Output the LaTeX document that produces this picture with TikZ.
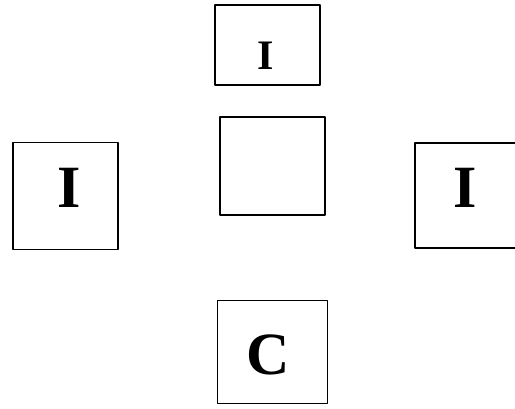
\documentclass[tikz,border=0pt]{standalone}
\usepackage{fontspec}
\setmainfont{Liberation Serif}
\begin{document}
\begin{tikzpicture}[x=1pt,y=-1pt,line cap=round,line join=round]
  \tikzset{
    card/.style={draw,line width=1.5pt,inner sep=0pt},
    letter/.style={font=\bfseries\fontsize{60}{60}\selectfont,inner sep=0pt}
  }
  \useasboundingbox (0,0) rectangle (515,408);
  \node[card,minimum width=105pt,minimum height=80pt] (top) at (267.5,45) {};
  \node[card,minimum width=105pt,minimum height=98pt] (mid) at (272.5,166) {};
  \node[card,minimum width=105pt,minimum height=107pt] (left) at (65.5,196) {};
  \node[card,minimum width=105pt,minimum height=105pt] (right) at (467.5,195.5) {};
  \node[card,minimum width=110pt,minimum height=103pt] (bottom) at (272.5,352) {};
  \node[letter,font=\bfseries\fontsize{42}{42}\selectfont] (topI) at (266,56) {I};
  \node[letter] (leftI) at (69,188) {I};
  \node[letter] (rightI) at (465,188) {I};
  \node[letter] (bottomC) at (268.5,355) {C};
\end{tikzpicture}
\end{document}
